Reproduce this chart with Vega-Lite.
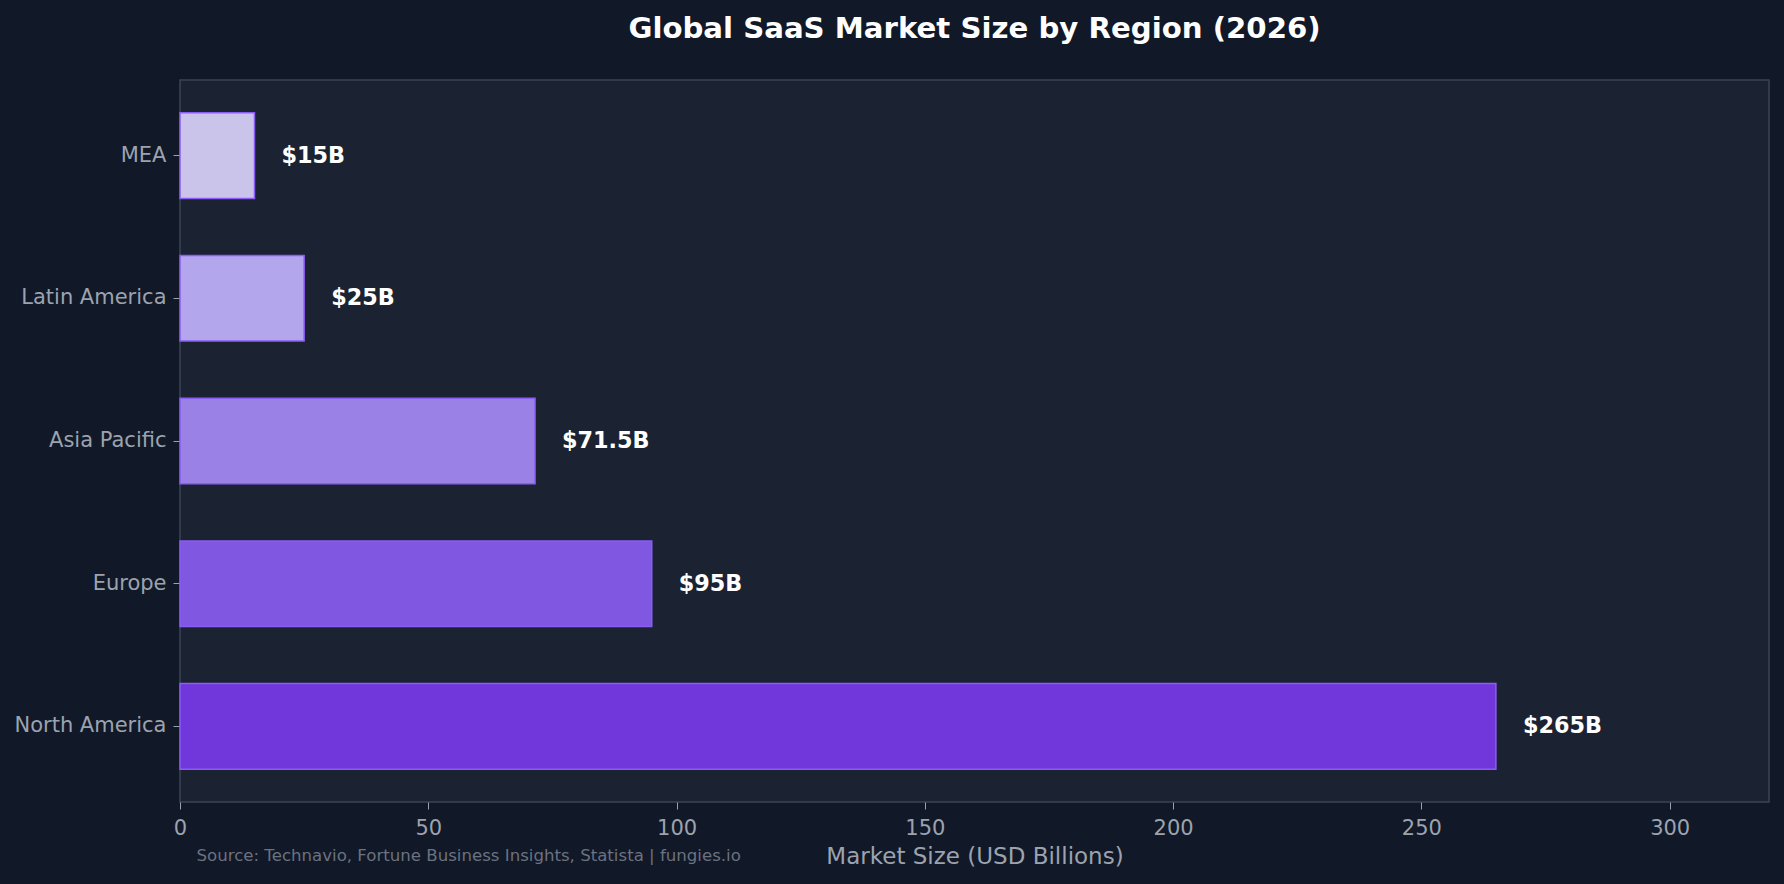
{
  "$schema": "https://vega.github.io/schema/vega-lite/v6.json",
  "background": "#111827",
  "autosize": {"type": "none"},
  "padding": {"left": 180, "top": 80, "right": 15, "bottom": 82},
  "width": 1589,
  "height": 722,
  "title": {
    "text": "Global SaaS Market Size by Region (2026)",
    "anchor": "middle",
    "frame": "group",
    "font": "DejaVu Sans",
    "fontSize": 29.2,
    "fontWeight": "bold",
    "color": "#ffffff",
    "baseline": "alphabetic",
    "offset": 12.5
  },
  "data": {
    "values": [
      {"region": "North America", "value": 265, "label": "$265B"},
      {"region": "Europe", "value": 95, "label": "$95B"},
      {"region": "Asia Pacific", "value": 71.5, "label": "$71.5B"},
      {"region": "Latin America", "value": 25, "label": "$25B"},
      {"region": "MEA", "value": 15, "label": "$15B"}
    ]
  },
  "encoding": {
    "y": {
      "field": "region",
      "type": "nominal",
      "sort": ["MEA", "Latin America", "Asia Pacific", "Europe", "North America"],
      "scale": {"paddingInner": 0.4, "paddingOuter": 0.23},
      "axis": {
        "title": "Source: Technavio, Fortune Business Insights, Statista | fungies.io",
        "titleAngle": 0,
        "titleX": 16,
        "titleY": 775,
        "titleAlign": "left",
        "titleBaseline": "middle",
        "titleFont": "DejaVu Sans",
        "titleFontSize": 16.6,
        "titleFontWeight": "normal",
        "titleColor": "#6b7280",
        "domain": false,
        "ticks": true,
        "tickSize": 7,
        "tickColor": "#9ca3af",
        "labelPadding": 7,
        "labelFont": "DejaVu Sans",
        "labelFontSize": 21,
        "labelColor": "#9ca3af",
        "labelLimit": 400
      }
    },
    "x": {
      "field": "value",
      "type": "quantitative",
      "scale": {"domain": [0, 320], "nice": false, "zero": true},
      "axis": {
        "title": "Market Size (USD Billions)",
        "values": [0, 50, 100, 150, 200, 250, 300],
        "grid": false,
        "domain": false,
        "tickSize": 7,
        "tickColor": "#9ca3af",
        "labelPadding": 8.5,
        "labelFlush": false,
        "labelFont": "DejaVu Sans",
        "labelFontSize": 21,
        "labelColor": "#9ca3af",
        "titleFont": "DejaVu Sans",
        "titleFontSize": 23,
        "titleFontWeight": "normal",
        "titleColor": "#9ca3af",
        "titlePadding": 7
      }
    }
  },
  "layer": [
    {
      "mark": {"type": "bar", "stroke": "#8b5cf6", "strokeWidth": 1.5, "opacity": 1},
      "encoding": {
        "color": {
          "field": "region",
          "type": "nominal",
          "scale": {
            "domain": ["North America", "Europe", "Asia Pacific", "Latin America", "MEA"],
            "range": ["#7137db", "#7f57e0", "#9a81e6", "#b3a6ec", "#cbc4ea"]
          },
          "legend": null
        }
      }
    },
    {
      "mark": {
        "type": "text",
        "align": "left",
        "baseline": "middle",
        "dx": 27,
        "font": "DejaVu Sans",
        "fontSize": 22.3,
        "fontWeight": "bold",
        "color": "#ffffff"
      },
      "encoding": {
        "text": {"field": "label"}
      }
    }
  ],
  "config": {
    "view": {"fill": "#1b2332", "stroke": "#3a4456", "strokeWidth": 1.5}
  }
}
